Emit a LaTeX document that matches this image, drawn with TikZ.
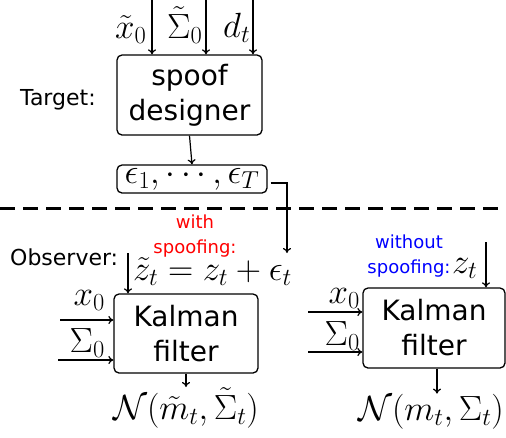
\RequirePackage{fix-cm}
\documentclass[tikz,border=0pt]{standalone}
\usepackage{fontspec}
\newfontfamily\dvs{DejaVu Sans}
\usetikzlibrary{arrows.meta}
\begin{document}
\begin{tikzpicture}[x=1pt,y=-1pt,
  conn/.style={line width=1.2pt,-{To[length=5pt,width=8pt]}},
  blk/.style={draw,line width=1.3pt,rounded corners=5pt,inner sep=0pt,align=center,
    font=\dvs\fontsize{28}{35}\selectfont},
  mth/.style={inner sep=0pt,font=\fontsize{35}{42}\selectfont},
  lbl/.style={inner sep=0pt,font=\dvs\fontsize{22}{26}\selectfont},
  note/.style={inner sep=0pt,align=center,font=\dvs\fontsize{18}{25}\selectfont}
]
\useasboundingbox (0,0) rectangle (506,437);

% Target part
\node[blk,minimum width=145pt,minimum height=80pt] (sd) at (189.5,95) {spoof\\designer};
\node[mth,anchor=base west] (lx) at (115,38) {$\tilde{x}_0$};
\node[mth,anchor=base west] (ls) at (167,38) {$\tilde{\Sigma}_0$};
\node[mth,anchor=base west] (ld) at (223,37) {$d_t$};
\coordinate (t1) at (152,0);
\coordinate (t2) at (206,0);
\coordinate (t3) at (253,0);
\draw[conn] (t1) -- (t1 |- sd.north);
\draw[conn] (t2) -- (t2 |- sd.north);
\draw[conn] (t3) -- (t3 |- sd.north);
\node[lbl,anchor=base west] (tg) at (20,105) {Target:};

\node[draw,line width=1.3pt,rounded corners=5pt,inner sep=0pt,minimum width=150pt,minimum height=28pt,
  font=\fontsize{35}{42}\selectfont] (eb) at (192,179) {$\epsilon_1,\cdots,\epsilon_T$};
\draw[conn] (sd.south) -- (eb.north);

% separator
\coordinate (dl) at (0,208);
\coordinate (dr) at (506,208);
\draw[line width=3pt,dash pattern=on 15pt off 8pt] (dl) -- (dr);

% Observer with spoofing
\node[note,text=red] (ws) at (195,236) {with\\spoofing:};
\node[lbl,anchor=base west] (ob) at (10,265) {Observer:};
\node[mth,anchor=base west] (zeq) at (133,280) {$\tilde{z}_t = z_t + \epsilon_t$};
\node[blk,minimum width=144pt,minimum height=79pt] (kf1) at (186,333.5) {Kalman\\filter};
\coordinate (ez) at (287,253);
\draw[conn] ([shift={(3,4)}]eb.east) -| (ez);
\coordinate (z1) at (128,253);
\draw[conn] (z1) -- (z1 |- kf1.north);
\coordinate (i1) at (60,320);
\coordinate (i2) at (58,360);
\draw[conn] (i1) -- (i1 -| kf1.west);
\draw[conn] (i2) -- (i2 -| kf1.west);
\node[mth,anchor=base east] (x1) at (105,305) {$x_0$};
\node[mth,anchor=base east] (s1) at (105,352) {$\Sigma_0$};
\node[mth,anchor=base] (n1) at (186,419) {$\mathcal{N}(\tilde{m}_t,\tilde{\Sigma}_t)$};
\draw[conn] (kf1.south) -- (kf1.south |- n1.north);

% Observer without spoofing
\node[note,text=blue] (wo) at (409,256) {without\\spoofing:};
\node[mth,anchor=base west] (zt) at (452,273) {$z_t$};
\node[blk,minimum width=142pt,minimum height=80pt] (kf2) at (434,328) {Kalman\\filter};
\coordinate (z2) at (486,242);
\draw[conn] (z2) -- (z2 |- kf2.north);
\coordinate (j1) at (308,312);
\coordinate (j2) at (308,352);
\draw[conn] (j1) -- (j1 -| kf2.west);
\draw[conn] (j2) -- (j2 -| kf2.west);
\node[mth,anchor=base east] (x2) at (360,303) {$x_0$};
\node[mth,anchor=base east] (s2) at (360,345) {$\Sigma_0$};
\node[mth,anchor=base] (n2) at (431,420) {$\mathcal{N}(m_t,\Sigma_t)$};
\draw[conn] ([xshift=3pt]kf2.south) -- ([xshift=3pt]kf2.south |- n2.north);
\end{tikzpicture}
\end{document}
